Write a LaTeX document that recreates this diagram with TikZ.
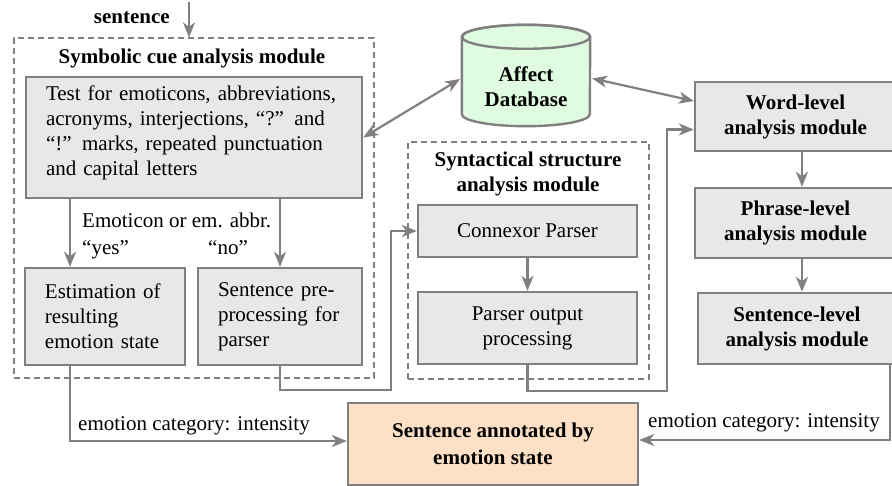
\documentclass[tikz,border=0pt]{standalone}
\usepackage{fontspec}
\setmainfont{Liberation Serif}
\usetikzlibrary{arrows.meta,calc}

\definecolor{edge}{HTML}{808080}
\definecolor{boxfill}{HTML}{E8E8E8}
\definecolor{dbfill}{HTML}{E0FCE0}
\definecolor{outfill}{HTML}{FDE0C5}

\begin{document}
\begin{tikzpicture}[x=1pt,y=-1pt,
  font=\fontsize{21}{25}\selectfont,
  >={Stealth[length=15pt,width=12pt,inset=4.5pt]},
  proc/.style={draw=edge, fill=boxfill, line width=2.4pt, inner sep=0pt, align=center},
  procl/.style={proc, align=left, inner xsep=20pt},
  bold/.style={font=\fontsize{21}{25}\selectfont\bfseries},
  group/.style={draw=edge, line width=1.2pt, dash pattern=on 6pt off 4pt, inner sep=0pt},
  lbl/.style={inner sep=0pt, anchor=base west},
  ttl/.style={inner sep=0pt, bold, align=center},
  arr/.style={draw=edge, line width=2.2pt, ->},
  dbl/.style={draw=edge, line width=2.2pt, <->},
]
\useasboundingbox (0,0) rectangle (892,486);
\clip (0,0) rectangle (892,486);

% module frames
\node[group, minimum width=360pt, minimum height=340pt] (symgrp) at (194,208) {};
\node[group, minimum width=241pt, minimum height=237pt] (syngrp) at (528.5,260.5) {};

% input
\node[ttl, anchor=base east] (sentlbl) at (170,24) {sentence};
\coordinate (inlet) at (189,2);
\draw[arr] (inlet) -- (symgrp.north -| inlet);

% symbolic cue analysis
\node[ttl] (symttl) at (192,58) {Symbolic cue analysis module};
\node[procl, text width=296pt, minimum width=336pt, minimum height=121pt] (test) at (194,137.5)
  {Test for emoticons, abbreviations,\\ acronyms, interjections, “?” and\\ “!” marks, repeated punctuation\\ and capital letters\rule[-14pt]{0pt}{1pt}};
\node[procl, text width=120pt, minimum width=160pt, minimum height=97pt] (est) at (105,316.5)
  {Estimation of\\ resulting\\ emotion state};
\node[procl, text width=124pt, minimum width=164pt, minimum height=97pt] (pre) at (280,316.5)
  {Sentence pre-\\ processing for\\ parser};
\node[lbl] (cond) at (82,228) {Emoticon or em. abbr.};
\node[lbl] (yes) at (82,255) {“yes”};
\node[lbl] (no) at (208,255) {“no”};

\coordinate (yesx) at ([xshift=-35pt]est.north);
\draw[arr] (test.south -| yesx) -- (yesx);
\draw[arr] (test.south -| pre.north) -- (pre.north);

% affect database
\node[minimum width=128pt, minimum height=101pt, inner sep=0pt] (db) at (526,75.5) {};
\filldraw[draw=edge, fill=dbfill, line width=2.4pt]
  ([yshift=-12pt]db.north west) -- ([yshift=12pt]db.south west)
  arc[start angle=180, end angle=360, x radius=64pt, y radius=12pt]
  -- ([yshift=-12pt]db.north east)
  arc[start angle=0, end angle=180, x radius=64pt, y radius=12pt] -- cycle;
\draw[draw=edge, line width=2.4pt] ([yshift=-12pt]db.north) ellipse[x radius=64pt, y radius=12pt];
\node[ttl] (dbtxt) at (526,87) {Affect\\ Database};

% syntactical structure analysis
\node[ttl] (synttl) at (528,173.5) {Syntactical structure\\ analysis module};
\node[proc, minimum width=219pt, minimum height=52pt] (conn) at (527.5,231) {Connexor Parser};
\node[proc, minimum width=219pt, minimum height=72pt] (pout) at (527.5,328) {Parser output\\ processing};
\draw[arr] (conn.south) -- (pout.north);

% word / phrase / sentence levels
\node[proc, bold, minimum width=201pt, minimum height=69pt] (word) at (795.5,116.5) {Word-level\\ analysis module};
\node[proc, bold, minimum width=201pt, minimum height=70pt] (phrase) at (795.5,223) {Phrase-level\\ analysis module};
\node[proc, bold, minimum width=198pt, minimum height=71pt] (sent) at (797,328.5) {Sentence-level\\ analysis module};
\draw[arr] ([xshift=6.5pt]word.south) -- ([xshift=6.5pt]word.south |- phrase.north);
\draw[arr] ([xshift=6.5pt]phrase.south) -- ([xshift=6.5pt]phrase.south |- sent.north);

% output
\node[proc, fill=outfill, bold, minimum width=290pt, minimum height=82pt] (ann) at (493,444) {Sentence annotated by\\[2pt] emotion state};

% connectors
\draw[arr] (pre.south) -- ++(0,24) -| ([xshift=-26pt]conn.west) -- (conn.west);
\draw[arr] (pout.south) -- ++(0,26) -| ([xshift=-27pt,yshift=-13pt]word.west) -- ([yshift=-13pt]word.west);
\draw[dbl, shorten >=2pt] (test.east) -- ([yshift=-2.5pt]db.west);
\draw[dbl, shorten <=2pt] ([yshift=-2.5pt]db.east) -- ([yshift=15.5pt]word.west);
\draw[arr] ([xshift=-35pt]est.south) |- ([yshift=3pt]ann.west);
\draw[arr] ([xshift=93pt]sent.south) |- ([yshift=4pt]ann.east);
\node[lbl] (lcat) at (78,430) {emotion category: intensity};
\node[lbl] (rcat) at (648,428) {emotion category: intensity};
\end{tikzpicture}
\end{document}
